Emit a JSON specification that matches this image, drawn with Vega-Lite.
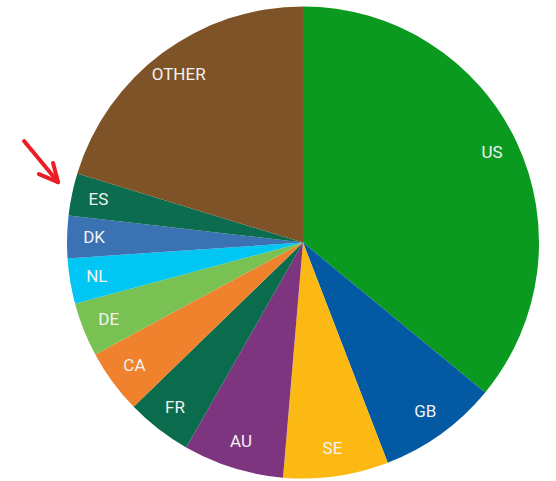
{
  "$schema": "https://vega.github.io/schema/vega-lite/v6.json",
  "autosize": "none",
  "width": 506,
  "height": 477,
  "padding": {"left": 50, "right": 0, "top": 4, "bottom": 0},
  "background": "white",
  "config": {"view": {"stroke": null}},
  "datasets": {
    "slices": [
      {"country": "US", "share": 36.0, "rank": 1},
      {"country": "GB", "share": 8.2, "rank": 2},
      {"country": "SE", "share": 7.2, "rank": 3},
      {"country": "AU", "share": 6.9, "rank": 4},
      {"country": "FR", "share": 4.5, "rank": 5},
      {"country": "CA", "share": 4.4, "rank": 6},
      {"country": "DE", "share": 3.7, "rank": 7},
      {"country": "NL", "share": 3.1, "rank": 8},
      {"country": "DK", "share": 2.9, "rank": 9},
      {"country": "ES", "share": 2.9, "rank": 10},
      {"country": "OTHER", "share": 20.3, "rank": 11}
    ],
    "arrow": [
      {"x": -1.182, "y": 0.430, "x2": -1.038, "y2": 0.256},
      {"x": -1.119, "y": 0.290, "x2": -1.038, "y2": 0.256},
      {"x": -1.059, "y": 0.337, "x2": -1.038, "y2": 0.256}
    ]
  },
  "layer": [
    {
      "data": {"name": "slices"},
      "mark": {"type": "arc", "outerRadius": 236, "stroke": null},
      "encoding": {
        "theta": {"field": "share", "type": "quantitative", "stack": true},
        "order": {"field": "rank", "type": "quantitative"},
        "color": {
          "field": "country",
          "type": "nominal",
          "legend": null,
          "scale": {
            "domain": ["US", "GB", "SE", "AU", "FR", "CA", "DE", "NL", "DK", "ES", "OTHER"],
            "range": ["#0a9a1f", "#0459a3", "#fdb913", "#7d3580", "#0a6b4d", "#f0822d", "#79c152", "#00c6f4", "#3b72b4", "#0b6c50", "#7e5328"]
          }
        }
      }
    },
    {
      "data": {"name": "slices"},
      "mark": {"type": "text", "radius": 209, "fontSize": 17, "font": "Roboto", "color": "#f2f2f2", "align": "center", "baseline": "middle"},
      "encoding": {
        "theta": {"field": "share", "type": "quantitative", "stack": true},
        "order": {"field": "rank", "type": "quantitative"},
        "text": {"field": "country", "type": "nominal"}
      }
    },
    {
      "data": {"name": "arrow"},
      "mark": {"type": "rule", "color": "#ee1c24", "strokeWidth": 4, "strokeCap": "round", "clip": false},
      "encoding": {
        "x": {"field": "x", "type": "quantitative", "scale": {"domain": [-1.072, 1.072], "nice": false, "zero": false}, "axis": null},
        "y": {"field": "y", "type": "quantitative", "scale": {"domain": [-1.0106, 1.0106], "nice": false, "zero": false}, "axis": null},
        "x2": {"field": "x2"},
        "y2": {"field": "y2"}
      }
    }
  ]
}
